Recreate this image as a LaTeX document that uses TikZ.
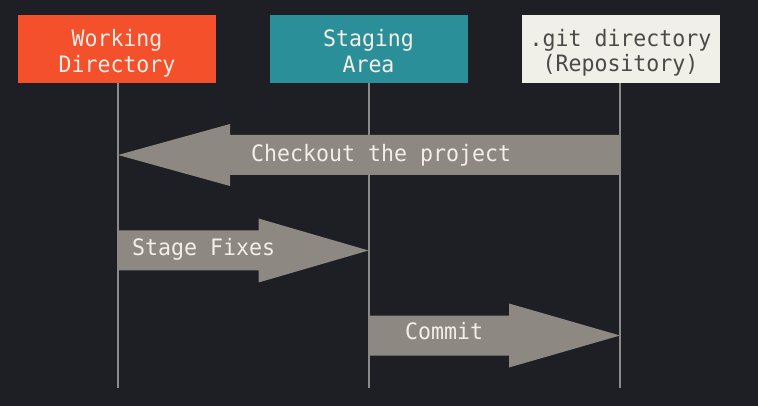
\documentclass[tikz,border=0pt]{standalone}
\usepackage{fontspec}
\newfontfamily\diagfont[FakeStretch=0.955]{DejaVu Sans Mono}
\usetikzlibrary{calc}
\definecolor{bg}{HTML}{1E1F24}
\definecolor{gitorange}{HTML}{F4502C}
\definecolor{gitteal}{HTML}{2B8F9A}
\definecolor{gitcream}{HTML}{F0F0E9}
\definecolor{arrowgray}{HTML}{8E8883}
\definecolor{linegray}{HTML}{8A8A8A}
\definecolor{lighttext}{HTML}{F4EEE6}
\definecolor{darktext}{HTML}{4A4A48}
\tikzset{
  areabox/.style={minimum width=198pt, minimum height=68pt, inner sep=0pt},
  boxtext/.style={inner sep=0pt, align=center, anchor=base,
    font=\diagfont\fontsize{22.6pt}{25.6pt}\selectfont},
  lifeline/.style={draw=linegray, line width=2pt},
  blockarrow/.style={fill=arrowgray},
  arrowtext/.style={text=lighttext, anchor=base west, inner sep=0pt,
    font=\diagfont\fontsize{22.6pt}{25.6pt}\selectfont}
}
\begin{document}
\begin{tikzpicture}[x=1pt,y=-1pt]
\fill[bg] (0,0) rectangle (758,406);
\useasboundingbox (0,0) rectangle (758,406);

\node[areabox, fill=gitorange] (wd) at (117,49) {};
\node[boxtext, text=lighttext] (wdtext) at (117,72.3) {Working\\Directory};
\node[areabox, fill=gitteal] (sa) at (368.5,49) {};
\node[boxtext, text=lighttext] (satext) at (368.5,72.3) {Staging\\Area};
\node[areabox, fill=gitcream] (repo) at (620.5,49) {};
\node[boxtext, text=darktext] (repotext) at (620.5,71.7) {.git directory\\(Repository)};

\coordinate (wdend) at (118,388);
\coordinate (saend) at (368.5,388);
\coordinate (repoend) at (620,388);
\draw[lifeline] (wd.south -| wdend) -- (wdend);
\draw[lifeline] (sa.south -| saend) -- (saend);
\draw[lifeline] (repo.south -| repoend) -- (repoend);

% Checkout: from repository to working directory
\coordinate (coT) at (620,155);
\coordinate (coP) at (118,155);
\fill[blockarrow] ($(coT)+(0,-20)$) -- ($(coP)+(112,-20)$) -- ($(coP)+(112,-31)$) -- (coP)
  -- ($(coP)+(112,31)$) -- ($(coP)+(112,20)$) -- ($(coT)+(0,20)$) -- cycle;
\node[arrowtext] (cotext) at (251,161.7) {Checkout the project};

% Stage fixes: from working directory to staging area
\coordinate (sfT) at (118,250.5);
\coordinate (sfP) at (368.5,250.5);
\fill[blockarrow] ($(sfT)+(0,-20)$) -- ($(sfP)+(-110,-20)$) -- ($(sfP)+(-110,-32)$) -- (sfP)
  -- ($(sfP)+(-110,32)$) -- ($(sfP)+(-110,20)$) -- ($(sfT)+(0,20)$) -- cycle;
\node[arrowtext] (sftext) at (132,256) {Stage Fixes};

% Commit: from staging area to repository
\coordinate (cmT) at (368.5,335.5);
\coordinate (cmP) at (620,335.5);
\fill[blockarrow] ($(cmT)+(0,-20)$) -- ($(cmP)+(-111,-20)$) -- ($(cmP)+(-111,-32)$) -- (cmP)
  -- ($(cmP)+(-111,32)$) -- ($(cmP)+(-111,20)$) -- ($(cmT)+(0,20)$) -- cycle;
\node[arrowtext] (cmtext) at (405,339.3) {Commit};
\end{tikzpicture}
\end{document}
